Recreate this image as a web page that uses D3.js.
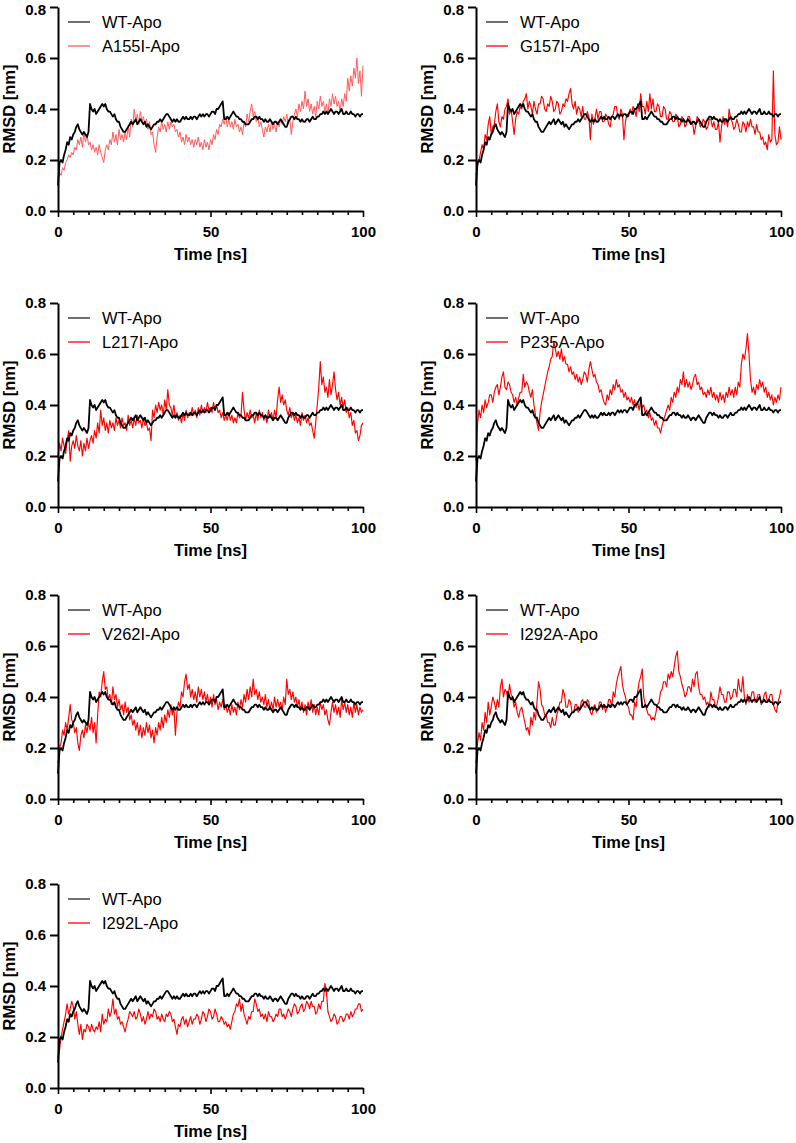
<!DOCTYPE html>
<html><head><meta charset="utf-8">
<script src="https://cdn.jsdelivr.net/npm/d3@7"></script>
<style>body{margin:0;background:#fff}</style>
</head><body>
<svg id="chart" width="796" height="1143"></svg>
<script>
// ---- data (RMSD in nm, sampled every 0.5 ns from 0 to 100 ns) ----
const timeStep = 0.5;
const xTickValues = [0,5,10,15,20,25,30,35,40,45,50,55,60,65,70,75,80,85,90,95,100];
const xTickLabels = [0,50,100];
const yTickValues = [0,0.2,0.4,0.6,0.8];
const wtLabel = "WT-Apo";
const mutantLabels = ["A155I-Apo","G157I-Apo","L217I-Apo","P235A-Apo","V262I-Apo","I292A-Apo","I292L-Apo"];

const wtApo = [
0.10,0.19,0.20,0.19,0.22,0.24,0.27,0.26,0.29,0.28,
0.30,0.31,0.33,0.34,0.32,0.31,0.30,0.31,0.30,0.29,
0.31,0.42,0.40,0.39,0.40,0.38,0.39,0.40,0.41,0.42,
0.41,0.42,0.40,0.39,0.39,0.38,0.37,0.38,0.36,0.35,
0.35,0.33,0.32,0.31,0.31,0.32,0.33,0.34,0.35,0.34,
0.35,0.36,0.34,0.35,0.36,0.35,0.34,0.35,0.33,0.34,
0.33,0.32,0.33,0.34,0.34,0.35,0.35,0.36,0.35,0.36,
0.37,0.38,0.38,0.37,0.36,0.35,0.36,0.35,0.36,0.35,
0.35,0.36,0.37,0.36,0.37,0.36,0.36,0.37,0.36,0.37,
0.37,0.36,0.37,0.38,0.37,0.38,0.37,0.38,0.38,0.37,
0.38,0.39,0.39,0.38,0.40,0.40,0.41,0.42,0.43,0.36,
0.36,0.37,0.36,0.37,0.38,0.39,0.38,0.37,0.37,0.36,
0.36,0.35,0.35,0.34,0.34,0.34,0.35,0.36,0.36,0.37,
0.37,0.36,0.37,0.36,0.36,0.35,0.36,0.35,0.35,0.36,
0.35,0.34,0.35,0.35,0.34,0.35,0.36,0.35,0.34,0.33,
0.33,0.35,0.36,0.37,0.37,0.36,0.37,0.36,0.36,0.35,
0.36,0.35,0.35,0.36,0.36,0.35,0.36,0.37,0.36,0.36,
0.37,0.37,0.38,0.38,0.39,0.38,0.39,0.38,0.39,0.40,
0.39,0.38,0.39,0.39,0.38,0.39,0.40,0.38,0.38,0.39,
0.38,0.38,0.39,0.38,0.38,0.37,0.38,0.38,0.37,0.38,
0.38];

const a155iApo = [
0.12,0.15,0.14,0.17,0.16,0.19,0.20,0.22,0.21,0.23,
0.22,0.25,0.24,0.28,0.26,0.29,0.25,0.31,0.27,0.30,
0.26,0.27,0.24,0.26,0.23,0.25,0.22,0.26,0.23,0.21,
0.19,0.24,0.26,0.24,0.28,0.26,0.31,0.27,0.30,0.26,
0.32,0.28,0.30,0.27,0.31,0.28,0.33,0.29,0.36,0.33,
0.40,0.35,0.38,0.34,0.39,0.35,0.37,0.34,0.36,0.32,
0.35,0.30,0.31,0.26,0.23,0.29,0.33,0.31,0.35,0.32,
0.34,0.31,0.35,0.32,0.35,0.33,0.34,0.31,0.32,0.29,
0.31,0.27,0.29,0.26,0.30,0.27,0.29,0.26,0.28,0.25,
0.28,0.26,0.29,0.25,0.27,0.24,0.28,0.25,0.27,0.24,
0.28,0.26,0.30,0.28,0.32,0.30,0.34,0.33,0.36,0.34,
0.37,0.33,0.36,0.33,0.35,0.32,0.36,0.33,0.34,0.31,
0.33,0.30,0.35,0.33,0.38,0.35,0.39,0.42,0.37,0.39,
0.35,0.37,0.33,0.35,0.32,0.29,0.33,0.31,0.34,0.31,
0.35,0.32,0.34,0.31,0.35,0.33,0.36,0.34,0.37,0.35,
0.38,0.34,0.36,0.30,0.35,0.38,0.40,0.37,0.42,0.39,
0.43,0.40,0.47,0.41,0.44,0.39,0.42,0.38,0.41,0.37,
0.43,0.40,0.45,0.41,0.43,0.39,0.42,0.38,0.44,0.41,
0.46,0.42,0.45,0.41,0.43,0.39,0.44,0.41,0.46,0.43,
0.52,0.47,0.53,0.49,0.56,0.52,0.60,0.50,0.55,0.45,
0.57];

const g157iApo = [
0.14,0.18,0.20,0.23,0.26,0.24,0.30,0.28,0.34,0.37,
0.30,0.33,0.34,0.39,0.42,0.35,0.33,0.37,0.36,0.40,
0.41,0.44,0.38,0.40,0.35,0.30,0.36,0.39,0.38,0.41,
0.40,0.43,0.44,0.46,0.40,0.43,0.41,0.38,0.43,0.40,
0.38,0.42,0.42,0.45,0.44,0.40,0.39,0.42,0.41,0.45,
0.43,0.39,0.40,0.43,0.42,0.38,0.39,0.42,0.41,0.44,
0.43,0.46,0.48,0.42,0.40,0.43,0.38,0.41,0.40,0.37,
0.41,0.36,0.36,0.39,0.37,0.28,0.38,0.34,0.36,0.40,
0.36,0.39,0.39,0.35,0.35,0.38,0.37,0.34,0.33,0.37,
0.38,0.41,0.41,0.37,0.36,0.40,0.38,0.28,0.35,0.38,
0.37,0.40,0.38,0.41,0.40,0.37,0.42,0.39,0.46,0.41,
0.41,0.38,0.43,0.39,0.46,0.40,0.44,0.39,0.39,0.42,
0.41,0.37,0.37,0.41,0.40,0.36,0.36,0.39,0.38,0.35,
0.35,0.38,0.37,0.33,0.34,0.37,0.36,0.33,0.34,0.37,
0.37,0.34,0.35,0.30,0.33,0.37,0.36,0.33,0.34,0.36,
0.35,0.32,0.33,0.36,0.36,0.33,0.35,0.32,0.32,0.35,
0.27,0.33,0.37,0.34,0.36,0.33,0.40,0.36,0.35,0.32,
0.33,0.36,0.34,0.31,0.31,0.35,0.34,0.31,0.35,0.33,
0.36,0.33,0.33,0.30,0.34,0.31,0.31,0.28,0.29,0.26,
0.27,0.24,0.30,0.27,0.28,0.55,0.30,0.26,0.27,0.33,
0.28];

const l217iApo = [
0.20,0.25,0.22,0.27,0.24,0.21,0.26,0.30,0.18,0.24,
0.26,0.23,0.28,0.24,0.22,0.26,0.20,0.25,0.22,0.27,
0.23,0.26,0.28,0.25,0.30,0.27,0.33,0.29,0.38,0.32,
0.35,0.30,0.33,0.29,0.34,0.31,0.33,0.30,0.35,0.32,
0.34,0.31,0.35,0.32,0.33,0.30,0.36,0.32,0.34,0.31,
0.35,0.32,0.36,0.33,0.34,0.31,0.35,0.32,0.33,0.30,
0.31,0.26,0.38,0.35,0.40,0.37,0.41,0.38,0.40,0.36,
0.42,0.38,0.46,0.40,0.39,0.36,0.40,0.35,0.37,0.34,
0.36,0.33,0.37,0.34,0.38,0.35,0.37,0.36,0.39,0.36,
0.38,0.35,0.39,0.36,0.40,0.37,0.39,0.37,0.41,0.38,
0.39,0.37,0.41,0.38,0.40,0.37,0.38,0.35,0.37,0.34,
0.36,0.34,0.37,0.34,0.36,0.33,0.35,0.33,0.37,0.35,
0.36,0.45,0.38,0.34,0.37,0.35,0.38,0.35,0.36,0.33,
0.37,0.34,0.38,0.35,0.37,0.34,0.36,0.33,0.38,0.35,
0.37,0.34,0.38,0.35,0.42,0.47,0.41,0.44,0.40,0.42,
0.38,0.36,0.39,0.35,0.37,0.34,0.36,0.33,0.35,0.32,
0.37,0.34,0.36,0.33,0.35,0.32,0.33,0.30,0.27,0.33,
0.40,0.47,0.57,0.48,0.51,0.45,0.47,0.43,0.50,0.44,
0.48,0.53,0.46,0.42,0.45,0.40,0.43,0.39,0.42,0.37,
0.39,0.35,0.37,0.32,0.34,0.29,0.30,0.26,0.28,0.32,
0.33];

const p235aApo = [
0.18,0.33,0.38,0.35,0.40,0.37,0.42,0.39,0.41,0.44,
0.44,0.41,0.45,0.47,0.48,0.44,0.47,0.51,0.53,0.47,
0.46,0.49,0.48,0.45,0.44,0.41,0.43,0.40,0.43,0.45,
0.45,0.52,0.47,0.49,0.48,0.45,0.43,0.46,0.40,0.36,
0.33,0.30,0.37,0.41,0.44,0.47,0.50,0.53,0.55,0.58,
0.59,0.65,0.62,0.59,0.61,0.58,0.62,0.57,0.59,0.56,
0.56,0.53,0.55,0.52,0.53,0.50,0.52,0.49,0.51,0.48,
0.50,0.53,0.52,0.49,0.54,0.57,0.54,0.51,0.52,0.49,
0.48,0.45,0.46,0.43,0.41,0.40,0.44,0.42,0.46,0.44,
0.48,0.46,0.50,0.47,0.48,0.45,0.46,0.43,0.45,0.42,
0.43,0.41,0.43,0.40,0.42,0.39,0.41,0.38,0.42,0.39,
0.40,0.37,0.38,0.35,0.37,0.34,0.35,0.32,0.34,0.31,
0.31,0.29,0.32,0.34,0.36,0.38,0.40,0.38,0.43,0.41,
0.45,0.43,0.47,0.45,0.50,0.48,0.53,0.47,0.50,0.47,
0.49,0.46,0.48,0.51,0.52,0.48,0.49,0.46,0.47,0.44,
0.45,0.43,0.46,0.44,0.47,0.43,0.45,0.42,0.44,0.41,
0.45,0.42,0.44,0.41,0.45,0.43,0.47,0.44,0.46,0.43,
0.47,0.44,0.49,0.47,0.56,0.60,0.58,0.62,0.68,0.60,
0.50,0.45,0.47,0.44,0.48,0.46,0.50,0.47,0.49,0.45,
0.47,0.43,0.45,0.42,0.44,0.40,0.43,0.41,0.44,0.42,
0.47];

const v262iApo = [
0.14,0.20,0.22,0.27,0.25,0.30,0.27,0.32,0.37,0.31,
0.30,0.26,0.28,0.22,0.19,0.25,0.27,0.24,0.29,0.26,
0.30,0.27,0.32,0.26,0.30,0.22,0.33,0.42,0.40,0.46,
0.50,0.43,0.44,0.39,0.41,0.37,0.44,0.39,0.41,0.36,
0.39,0.35,0.37,0.33,0.38,0.34,0.36,0.31,0.33,0.29,
0.31,0.27,0.30,0.25,0.29,0.24,0.28,0.25,0.30,0.26,
0.29,0.24,0.27,0.22,0.28,0.25,0.30,0.27,0.32,0.28,
0.33,0.30,0.35,0.32,0.37,0.33,0.36,0.25,0.34,0.38,
0.36,0.42,0.40,0.46,0.49,0.43,0.45,0.40,0.43,0.39,
0.42,0.38,0.44,0.40,0.43,0.39,0.42,0.38,0.41,0.37,
0.40,0.36,0.41,0.37,0.39,0.35,0.38,0.36,0.39,0.35,
0.37,0.34,0.36,0.33,0.37,0.34,0.36,0.33,0.38,0.35,
0.39,0.36,0.41,0.38,0.43,0.39,0.44,0.40,0.47,0.41,
0.43,0.39,0.42,0.38,0.40,0.37,0.41,0.36,0.39,0.35,
0.38,0.35,0.40,0.36,0.39,0.36,0.38,0.35,0.40,0.37,
0.47,0.41,0.43,0.39,0.42,0.38,0.40,0.36,0.39,0.35,
0.38,0.34,0.37,0.33,0.38,0.35,0.39,0.34,0.37,0.33,
0.36,0.33,0.38,0.35,0.37,0.33,0.35,0.31,0.29,0.34,
0.38,0.34,0.37,0.33,0.36,0.32,0.39,0.35,0.38,0.34,
0.37,0.33,0.36,0.32,0.38,0.34,0.37,0.33,0.36,0.34,
0.35];

const i292aApo = [
0.14,0.22,0.26,0.23,0.30,0.27,0.34,0.30,0.38,0.33,
0.36,0.40,0.38,0.35,0.39,0.36,0.44,0.47,0.40,0.43,
0.42,0.39,0.45,0.41,0.40,0.36,0.38,0.34,0.32,0.35,
0.36,0.33,0.30,0.27,0.28,0.25,0.32,0.29,0.34,0.31,
0.38,0.46,0.43,0.37,0.36,0.33,0.33,0.30,0.30,0.28,
0.32,0.29,0.29,0.33,0.35,0.38,0.38,0.43,0.41,0.36,
0.36,0.39,0.38,0.34,0.34,0.37,0.37,0.34,0.35,0.38,
0.39,0.36,0.36,0.39,0.38,0.34,0.33,0.36,0.37,0.34,
0.35,0.38,0.38,0.35,0.37,0.34,0.36,0.39,0.39,0.36,
0.42,0.40,0.45,0.48,0.50,0.52,0.45,0.42,0.40,0.37,
0.36,0.33,0.33,0.31,0.38,0.36,0.42,0.46,0.48,0.51,
0.40,0.37,0.35,0.33,0.33,0.31,0.32,0.31,0.34,0.37,
0.38,0.42,0.43,0.46,0.46,0.44,0.49,0.47,0.50,0.48,
0.52,0.56,0.58,0.50,0.48,0.45,0.43,0.40,0.41,0.44,
0.44,0.42,0.47,0.44,0.49,0.50,0.44,0.41,0.41,0.39,
0.40,0.37,0.38,0.36,0.42,0.39,0.39,0.36,0.37,0.40,
0.44,0.41,0.41,0.38,0.38,0.42,0.42,0.39,0.40,0.43,
0.43,0.40,0.47,0.43,0.42,0.48,0.40,0.37,0.41,0.38,
0.39,0.42,0.42,0.38,0.39,0.41,0.41,0.37,0.38,0.41,
0.42,0.38,0.39,0.41,0.41,0.37,0.35,0.34,0.38,0.40,
0.43];

const i292lApo = [
0.12,0.15,0.20,0.23,0.26,0.29,0.33,0.29,0.31,0.34,
0.32,0.27,0.30,0.25,0.21,0.25,0.19,0.23,0.22,0.25,
0.24,0.22,0.25,0.23,0.22,0.24,0.23,0.26,0.22,0.29,
0.25,0.27,0.26,0.31,0.28,0.30,0.35,0.29,0.31,0.27,
0.28,0.25,0.26,0.24,0.22,0.25,0.27,0.30,0.29,0.28,
0.30,0.27,0.28,0.31,0.29,0.26,0.28,0.25,0.27,0.30,
0.27,0.29,0.28,0.31,0.30,0.27,0.28,0.26,0.29,0.27,
0.26,0.29,0.28,0.30,0.29,0.26,0.27,0.24,0.21,0.25,
0.24,0.27,0.28,0.25,0.27,0.24,0.26,0.28,0.25,0.27,
0.27,0.29,0.28,0.25,0.27,0.30,0.29,0.26,0.28,0.31,
0.30,0.27,0.28,0.31,0.29,0.26,0.26,0.28,0.27,0.25,
0.26,0.24,0.25,0.23,0.26,0.29,0.30,0.33,0.32,0.35,
0.30,0.33,0.29,0.27,0.25,0.28,0.27,0.30,0.30,0.35,
0.33,0.30,0.31,0.28,0.29,0.27,0.29,0.26,0.30,0.28,
0.28,0.26,0.27,0.29,0.28,0.31,0.31,0.28,0.29,0.27,
0.29,0.31,0.30,0.28,0.31,0.33,0.32,0.29,0.30,0.32,
0.33,0.30,0.31,0.34,0.33,0.31,0.34,0.32,0.32,0.29,
0.30,0.33,0.31,0.34,0.34,0.41,0.38,0.30,0.28,0.26,
0.27,0.29,0.28,0.25,0.26,0.28,0.28,0.26,0.27,0.29,
0.29,0.27,0.30,0.28,0.29,0.31,0.31,0.33,0.33,0.30,
0.31];

const mutantSeries = [a155iApo, g157iApo, l217iApo, p235aApo, v262iApo, i292aApo, i292lApo];

// ---- layout ----
const colLeft = [58, 476];
const rowTop = [7, 303, 595, 884];
const plotW = 305, plotH = 204;
const FONT = "'Liberation Sans', Arial, Helvetica, sans-serif";
const mutantColors = ["#ff5a5a","#ff0000","#ff0000","#ff0000","#ff0000","#ff0000","#ff0000"];

const svg = d3.select("#chart");
svg.append("rect").attr("width",796).attr("height",1143).attr("fill","#fff");

mutantSeries.forEach((series, k) => {
  const L = colLeft[k % 2], T = rowTop[Math.floor(k / 2)];
  const x = d3.scaleLinear().domain([0,100]).range([L, L + plotW]);
  const y = d3.scaleLinear().domain([0,0.8]).range([T + plotH, T]);
  const g = svg.append("g");
  const line = d3.line().x((d,i) => x(i * timeStep)).y(d => y(d));

  // data lines: mutant first, WT on top
  g.append("path").datum(series).attr("d", line)
    .attr("fill","none").attr("stroke", mutantColors[k])
    .attr("stroke-width", k === 0 ? 1.0 : 1.15).attr("stroke-linejoin","round");
  g.append("path").datum(wtApo).attr("d", line)
    .attr("fill","none").attr("stroke","#000")
    .attr("stroke-width",1.8).attr("stroke-linejoin","round");

  // y axis
  const ya = g.append("g").attr("transform",`translate(${L},0)`)
    .call(d3.axisLeft(y).tickValues(yTickValues).tickFormat(d3.format(".1f"))
      .tickSize(8).tickSizeOuter(0).tickPadding(4));
  ya.select(".domain").attr("stroke","#000").attr("stroke-width",2);
  ya.selectAll(".tick line").attr("stroke","#000").attr("stroke-width",2);
  ya.selectAll(".tick text").attr("font-family",FONT).attr("font-size",15)
    .attr("font-weight","bold").attr("fill","#000")
    .attr("dy", d => (T < 14 && d === 0.8) ? "0.47em" : "0.32em");

  // x axis
  const xa = g.append("g").attr("transform",`translate(0,${T + plotH})`)
    .call(d3.axisBottom(x).tickValues(xTickValues)
      .tickFormat(d => xTickLabels.includes(d) ? d : "")
      .tickSize(6).tickSizeOuter(0).tickPadding(9));
  xa.select(".domain").attr("stroke","#000").attr("stroke-width",2);
  xa.selectAll(".tick line").attr("stroke","#000").attr("stroke-width",1.6)
    .attr("y2", d => xTickLabels.includes(d) ? 6 : 4);
  xa.selectAll(".tick text").attr("font-family",FONT).attr("font-size",15)
    .attr("font-weight","bold").attr("fill","#000");

  // axis titles
  g.append("text").attr("transform",`translate(${L - 43},${T + plotH/2}) rotate(-90)`)
    .attr("text-anchor","middle").attr("font-family",FONT).attr("font-size",16.5)
    .attr("font-weight","bold").text("RMSD [nm]");
  g.append("text").attr("x", L + plotW/2).attr("y", T + plotH + 49)
    .attr("text-anchor","middle").attr("font-family",FONT).attr("font-size",16.5)
    .attr("font-weight","bold").text("Time [ns]");

  // legend
  const leg = [[wtLabel,"#222"],[mutantLabels[k], mutantColors[k]]];
  leg.forEach(([lab,col], j) => {
    const ly = T + 15 + j * 24;
    g.append("line").attr("x1", L + 10).attr("x2", L + 32).attr("y1", ly).attr("y2", ly)
      .attr("stroke", col).attr("stroke-width", 1.3);
    g.append("text").attr("x", L + 44).attr("y", ly).attr("dy","0.36em")
      .attr("font-family",FONT).attr("font-size",16.5).attr("fill","#000").text(lab);
  });
});
</script>
</body></html>
